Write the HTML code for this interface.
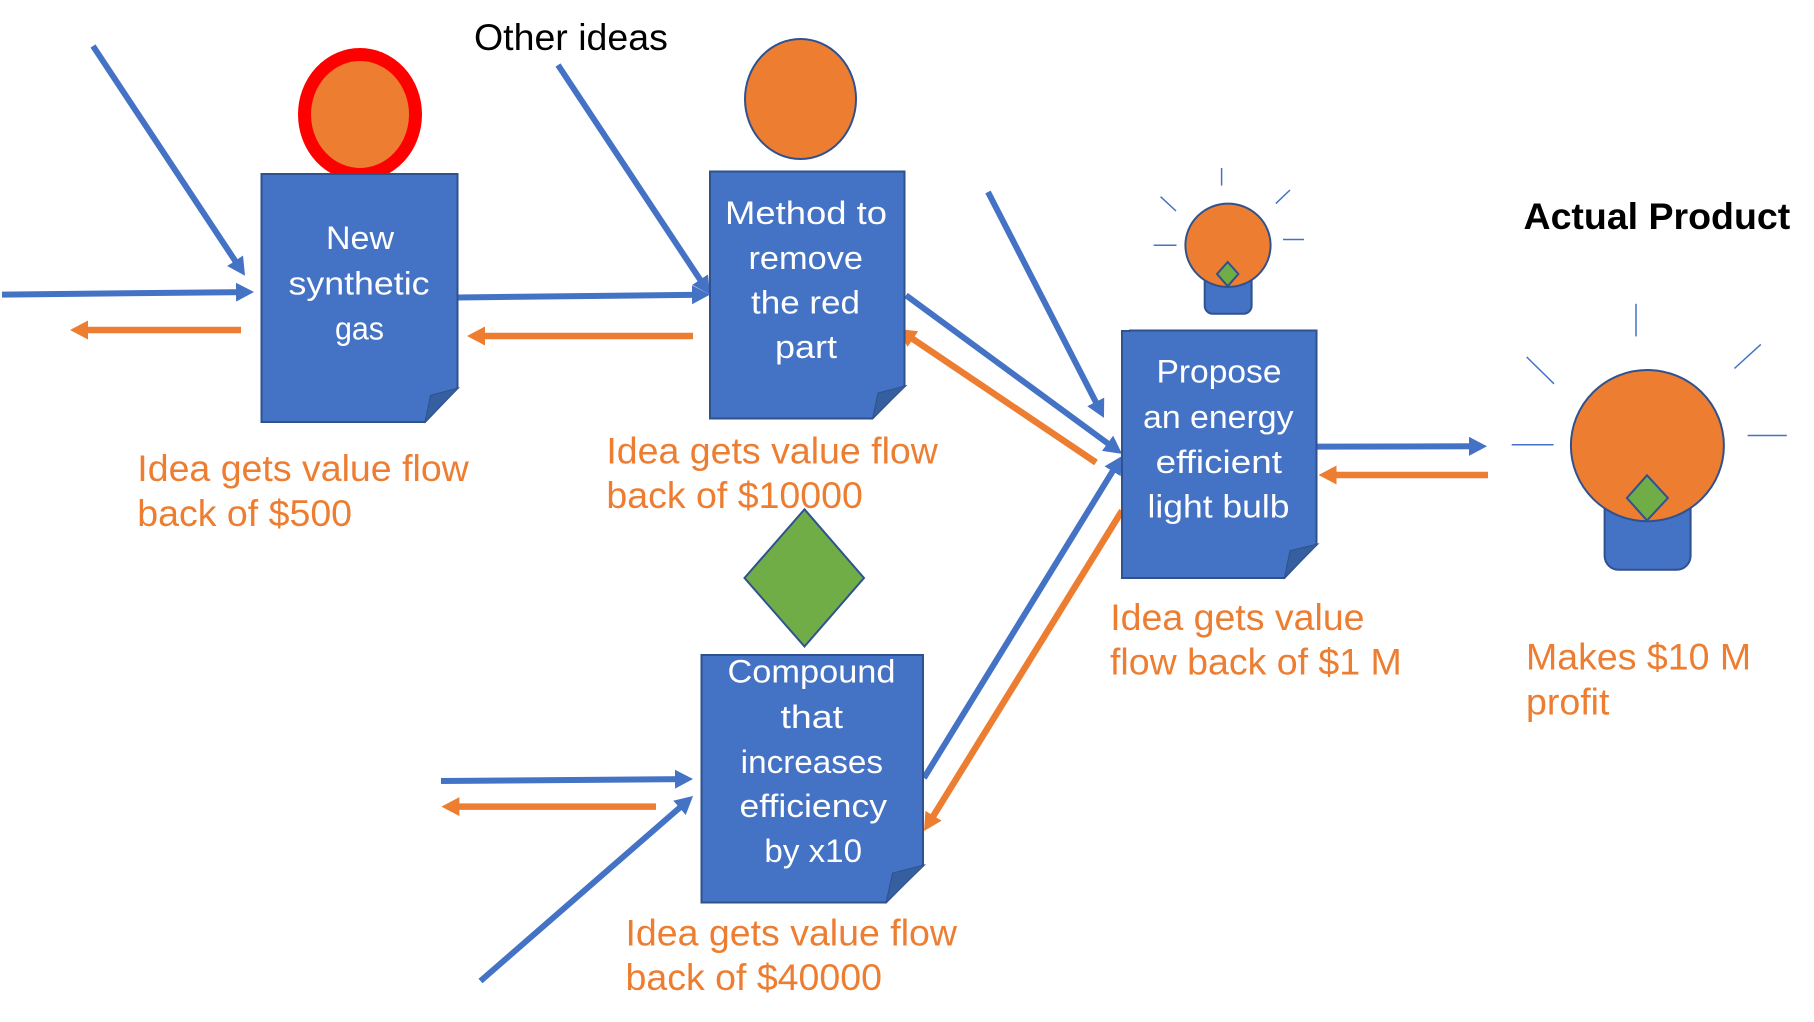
<!DOCTYPE html>
<html>
<head>
<meta charset="utf-8">
<style>
html,body{margin:0;padding:0;background:#fff;width:1814px;height:1022px;overflow:hidden}
svg{display:block}
.o{font-family:"Liberation Sans",Arial,sans-serif;font-size:37.5px;fill:#ed7d31}
.k{font-family:"Liberation Sans",Arial,sans-serif;font-size:37.5px;fill:#000}
.d{font-family:"Liberation Sans",Arial,sans-serif;font-size:32px;fill:#fff}
.doc{fill:#4472c4;stroke:#2f528f;stroke-width:2}
.fold{fill:#365f9f;stroke:#2f528f;stroke-width:1}
.sh{stroke:#2f528f;stroke-width:2}
.b{stroke:#4472c4;stroke-width:6;fill:none;marker-end:url(#bh)}
.r{stroke:#ed7d31;stroke-width:6.5;fill:none;marker-end:url(#rh)}
.ray{stroke:#4472c4;stroke-width:1.5}
</style>
</head>
<body>
<svg width="1814" height="1022" viewBox="0 0 1814 1022" xmlns="http://www.w3.org/2000/svg">
<defs>
<marker id="bh" markerUnits="userSpaceOnUse" markerWidth="20" markerHeight="20" refX="8" refY="9.5" orient="auto"><polygon points="0,0 18,9.5 0,19" fill="#4472c4"/></marker>
<marker id="rh" markerUnits="userSpaceOnUse" markerWidth="20" markerHeight="20" refX="8" refY="9.5" orient="auto"><polygon points="0,0 18,9.5 0,19" fill="#ed7d31"/></marker>
</defs>
<rect width="1814" height="1022" fill="#fff"/>

<!-- heads -->
<ellipse cx="360" cy="114.5" rx="55.5" ry="60" fill="#ed7d31" stroke="#ff0000" stroke-width="13"/>
<ellipse cx="800.5" cy="99" rx="55.5" ry="60" fill="#ed7d31" class="sh"/>
<polygon points="804.5,509.3 864,578 804.5,646.5 744.5,578" fill="#70ad47" class="sh"/>

<!-- small bulb -->
<rect x="1204.7" y="260" width="46.9" height="53.8" rx="8" fill="#4472c4" class="sh"/>
<ellipse cx="1228" cy="245.3" rx="42.6" ry="41.7" fill="#ed7d31" class="sh"/>
<polygon points="1227.7,262 1238.4,274 1227.7,286.2 1217,274" fill="#70ad47" class="sh"/>
<line class="ray" x1="1221.6" y1="168" x2="1221.6" y2="185.6"/>
<line class="ray" x1="1160.6" y1="196.7" x2="1176" y2="211"/>
<line class="ray" x1="1290" y1="190" x2="1275.8" y2="203.6"/>
<line class="ray" x1="1153.7" y1="245.3" x2="1176.5" y2="245.3"/>
<line class="ray" x1="1283" y1="239.5" x2="1304" y2="239.5"/>

<!-- large bulb -->
<rect x="1604.6" y="490" width="86" height="79.8" rx="14" fill="#4472c4" class="sh"/>
<ellipse cx="1647.4" cy="445.6" rx="76.5" ry="75.6" fill="#ed7d31" class="sh"/>
<polygon points="1647,475.3 1667.9,498 1647,520.5 1626.9,498" fill="#70ad47" class="sh"/>
<line class="ray" x1="1636" y1="303.8" x2="1636" y2="336.4"/>
<line class="ray" x1="1526.7" y1="357" x2="1554" y2="383.8"/>
<line class="ray" x1="1760.8" y1="344.4" x2="1734.4" y2="368.5"/>
<line class="ray" x1="1511.7" y1="444.7" x2="1553.6" y2="444.7"/>
<line class="ray" x1="1747.6" y1="435.5" x2="1786.8" y2="435.5"/>

<!-- connectors -->
<line class="b" x1="93" y1="46" x2="239.5" y2="267.4"/>
<line class="b" x1="2" y1="294.6" x2="244" y2="292.1"/>
<line class="r" x1="241" y1="330" x2="80" y2="330"/>
<line class="b" x1="458" y1="297.5" x2="700" y2="294.7"/>
<line class="r" x1="693" y1="336" x2="477" y2="336"/>
<line class="b" x1="558" y1="65" x2="704.5" y2="286.3"/>
<line class="b" x1="906" y1="295.3" x2="1114" y2="448"/>
<line class="r" x1="1096" y1="462.5" x2="906.3" y2="334.6"/>
<line class="b" x1="988" y1="192" x2="1099.4" y2="409"/>
<line class="b" x1="924" y1="778" x2="1116.8" y2="464.5"/>
<line class="r" x1="1122" y1="510.7" x2="929.3" y2="822.5"/>
<line class="b" x1="441" y1="781" x2="683" y2="779.1"/>
<line class="r" x1="656" y1="806.6" x2="451.4" y2="806.6"/>
<line class="b" x1="480.5" y1="981" x2="685.5" y2="802.6"/>
<line class="b" x1="1317" y1="446.6" x2="1477" y2="446.3"/>
<line class="r" x1="1488" y1="475" x2="1328.6" y2="475"/>

<!-- documents -->
<polygon class="doc" points="261.5,174 457.5,174 457.5,388 425,422 261.5,422"/>
<polygon class="fold" points="458.5,388 430.5,395.3 425,422"/>
<polygon class="doc" points="710,171.5 904.5,171.5 904.5,385.7 872.5,418.5 710,418.5"/>
<polygon class="fold" points="906,385.7 878,393 872.5,418.5"/>
<polygon class="doc" points="1122,331 1130,331 1130,330.5 1316.5,330.5 1316.5,544 1284.4,578 1122,578"/>
<polygon class="fold" points="1318,544 1290,550.7 1284.4,578"/>
<polygon class="doc" points="701.5,655 923,655 923,865 886,902.5 701.5,902.5"/>
<polygon class="fold" points="924.5,865 892.6,873 886,902.5"/>

<!-- document text -->
<text class="d" x="326" y="249" textLength="68" lengthAdjust="spacingAndGlyphs">New</text>
<text class="d" x="288.5" y="294.5" textLength="141" lengthAdjust="spacingAndGlyphs">synthetic</text>
<text class="d" x="335" y="339.5" textLength="49" lengthAdjust="spacingAndGlyphs">gas</text>

<text class="d" x="725" y="224" textLength="162" lengthAdjust="spacingAndGlyphs">Method to</text>
<text class="d" x="748.5" y="269" textLength="114.5" lengthAdjust="spacingAndGlyphs">remove</text>
<text class="d" x="751" y="313.5" textLength="109" lengthAdjust="spacingAndGlyphs">the red</text>
<text class="d" x="775" y="358" textLength="62" lengthAdjust="spacingAndGlyphs">part</text>

<text class="d" x="1156.5" y="382.5" textLength="125" lengthAdjust="spacingAndGlyphs">Propose</text>
<text class="d" x="1143" y="428" textLength="150.5" lengthAdjust="spacingAndGlyphs">an energy</text>
<text class="d" x="1155.6" y="473" textLength="126.4" lengthAdjust="spacingAndGlyphs">efficient</text>
<text class="d" x="1147.5" y="517.4" textLength="142" lengthAdjust="spacingAndGlyphs">light bulb</text>

<text class="d" x="727.5" y="682.5" textLength="168" lengthAdjust="spacingAndGlyphs">Compound</text>
<text class="d" x="780.5" y="728" textLength="62.5" lengthAdjust="spacingAndGlyphs">that</text>
<text class="d" x="740.7" y="773" textLength="142.3" lengthAdjust="spacingAndGlyphs">increases</text>
<text class="d" x="739.5" y="817" textLength="147.5" lengthAdjust="spacingAndGlyphs">efficiency</text>
<text class="d" x="764.4" y="862" textLength="97.6" lengthAdjust="spacingAndGlyphs">by x10</text>

<!-- labels -->
<text class="k" x="474" y="50">Other ideas</text>
<text class="k" x="1523.5" y="229" font-weight="bold">Actual Product</text>

<text class="o" x="137.3" y="481">Idea gets value flow</text>
<text class="o" x="137.3" y="526">back of $500</text>
<text class="o" x="606.4" y="463.5">Idea gets value flow</text>
<text class="o" x="606.4" y="508">back of $10000</text>
<text class="o" x="625.5" y="945.4">Idea gets value flow</text>
<text class="o" x="625.5" y="990">back of $40000</text>
<text class="o" x="1110.2" y="630">Idea gets value</text>
<text class="o" x="1110" y="674.3">flow back of $1 M</text>
<text class="o" x="1526" y="669.3">Makes $10 M</text>
<text class="o" x="1526" y="714.5">profit</text>
</svg>
</body>
</html>
